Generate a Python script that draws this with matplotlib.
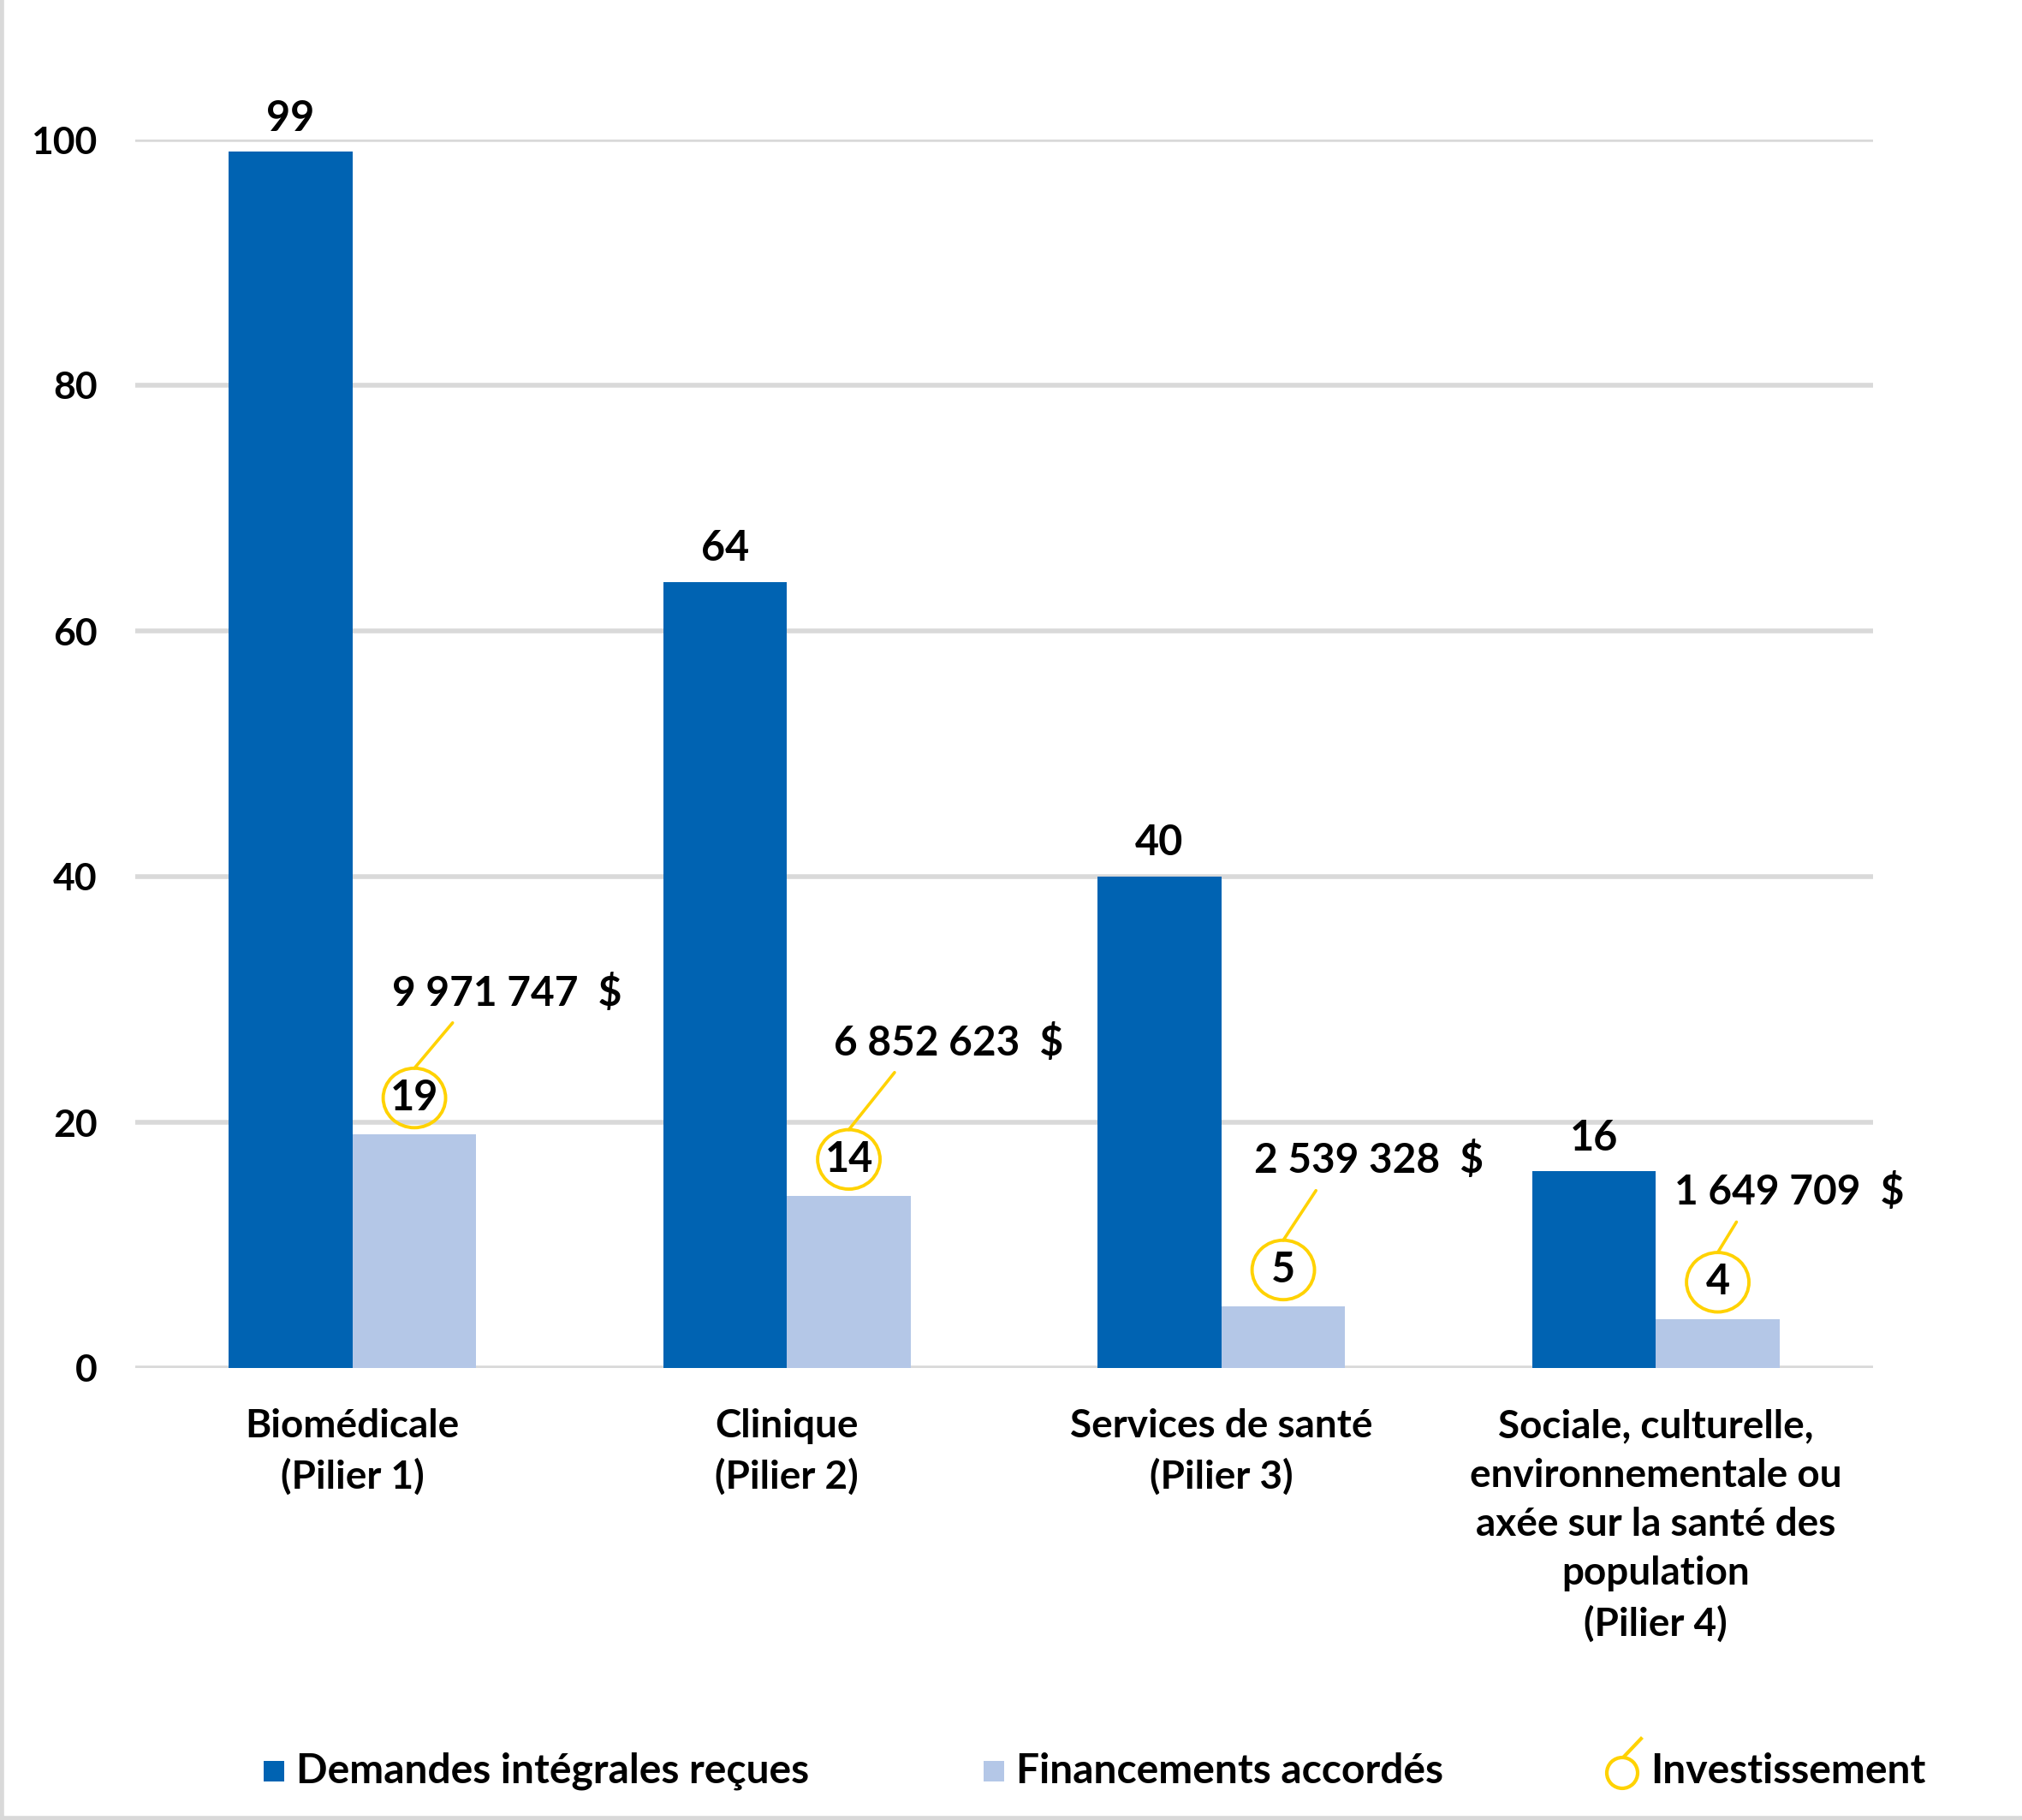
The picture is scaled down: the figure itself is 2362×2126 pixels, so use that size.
import matplotlib
matplotlib.use("Agg")
import matplotlib.pyplot as plt
import matplotlib.transforms as mtransforms
from matplotlib.patches import Rectangle, Ellipse
from matplotlib.lines import Line2D
import numpy as np

plt.rcParams['font.family'] = ['Lato', 'DejaVu Sans']

categories = ["Biomédicale\n(Pilier 1)", "Clinique\n(Pilier 2)", "Services de santé\n(Pilier 3)",
              "Sociale, culturelle,\nenvironnementale ou\naxée sur la santé des\npopulation\n(Pilier 4)"]
demandes = [99, 64, 40, 16]
financements = [19, 14, 5, 4]
investissement = ["9 971 747  $", "6 852 623  $", "2 539 328  $", "1 649 709  $"]
series_names = ["Demandes intégrales reçues", "Financements accordés", "Investissement"]
yticks = [0, 20, 40, 60, 80, 100]

# label offsets (points) of the investment labels relative to circle top
inv_offsets = [(39, 31.5), (42, 36.5), (36, 33.5), (30, 25.5)]

DARK = "#0063B2"
LIGHT = "#B4C7E7"
YELLOW = "#FFD200"
GRID = "#D9D9D9"
DPI = 200

fig = plt.figure(figsize=(2362/DPI, 2126/DPI), dpi=DPI)
ax = fig.add_axes([158/2362, 1 - 1598/2126, (2188-158)/2362, (1598-163)/2126])

x = np.arange(len(categories))
w = 0.285
b1 = ax.bar(x - w/2, demandes, w, color=DARK, zorder=2)
b2 = ax.bar(x + w/2, financements, w, color=LIGHT, zorder=2)

ax.set_xlim(-0.5, len(categories) - 0.5)
ax.set_ylim(0, 100)
ax.set_yticks(yticks)
ax.set_yticklabels([str(t) for t in yticks], fontsize=16, fontweight='bold')
ax.set_xticks(x)
ax.set_xticklabels(categories, fontsize=16.5, fontweight='bold', linespacing=1.45, va='top')
ax.tick_params(axis='both', length=0)
ax.tick_params(axis='y', pad=16)
ax.tick_params(axis='x', pad=17)
for s in ax.spines.values():
    s.set_visible(False)
ax.grid(axis='y', color=GRID, linewidth=2, zorder=0)
ax.set_axisbelow(True)

ax.bar_label(b1, labels=[str(v) for v in demandes], padding=6, fontsize=17.5, fontweight='bold')

circle_off = 15.4
radius_pt = 12.5
r_px = radius_pt * DPI / 72
for i, (xi, v) in enumerate(zip(x + w/2, financements)):
    ax.annotate(str(v), xy=(xi, v), xytext=(0, circle_off), textcoords='offset points',
                ha='center', va='center', fontsize=17.5, fontweight='bold', zorder=4)
    e = Ellipse((0, 0), width=2*r_px*1.05, height=2*r_px, fill=False, edgecolor=YELLOW,
                linewidth=1.4, zorder=4)
    tr = mtransforms.Affine2D().translate(0, circle_off*DPI/72) + \
        mtransforms.ScaledTranslation(xi, v, ax.transData)
    e.set_transform(tr)
    e.set_clip_on(False)
    ax.add_artist(e)
    top = mtransforms.offset_copy(ax.transData, fig=fig, x=0, y=circle_off + radius_pt, units='points')
    dx, dy = inv_offsets[i]
    ax.annotate(investissement[i], xy=(xi, v), xycoords=top, xytext=(dx, dy), textcoords='offset points',
                ha='center', va='center', fontsize=17.2, fontweight='bold', zorder=4,
                arrowprops=dict(arrowstyle='-', color=YELLOW, lw=1.3, shrinkA=3, shrinkB=0,
                                relpos=(0.3, 0.0)))

# legend (manual)
ly = 1 - 2069/2126
fs_leg = 17.3
sq = 24
for px, col, txt in [(320, DARK, series_names[0]), (1161, LIGHT, series_names[1])]:
    fig.patches.append(Rectangle((px/2362 - sq/2/2362, ly - sq/2/2126), sq/2362, sq/2126,
                                 transform=fig.transFigure, facecolor=col, edgecolor='none'))
    fig.text((px + 26)/2362, ly, txt, fontsize=fs_leg, fontweight='bold', va='center', ha='left')
fig.patches.append(Ellipse((1895/2362, 1 - 2071/2126), 36/2362, 36/2126, transform=fig.transFigure,
                           fill=False, edgecolor=YELLOW, linewidth=1.5))
fig.lines.append(Line2D([1897/2362, 1917/2362], [1 - 2052/2126, 1 - 2031/2126], transform=fig.transFigure,
                        color=YELLOW, linewidth=1.5))
fig.text(1928/2362, ly, series_names[2], fontsize=fs_leg, fontweight='bold', va='center', ha='left')

# partial frame
fig.lines.append(Line2D([2/2362, 2/2362], [0, 1], transform=fig.transFigure, color=GRID, linewidth=2))
fig.lines.append(Line2D([0, 1], [2/2126, 2/2126], transform=fig.transFigure, color=GRID, linewidth=2))

fig.savefig("out.png", dpi=DPI, facecolor='white')
